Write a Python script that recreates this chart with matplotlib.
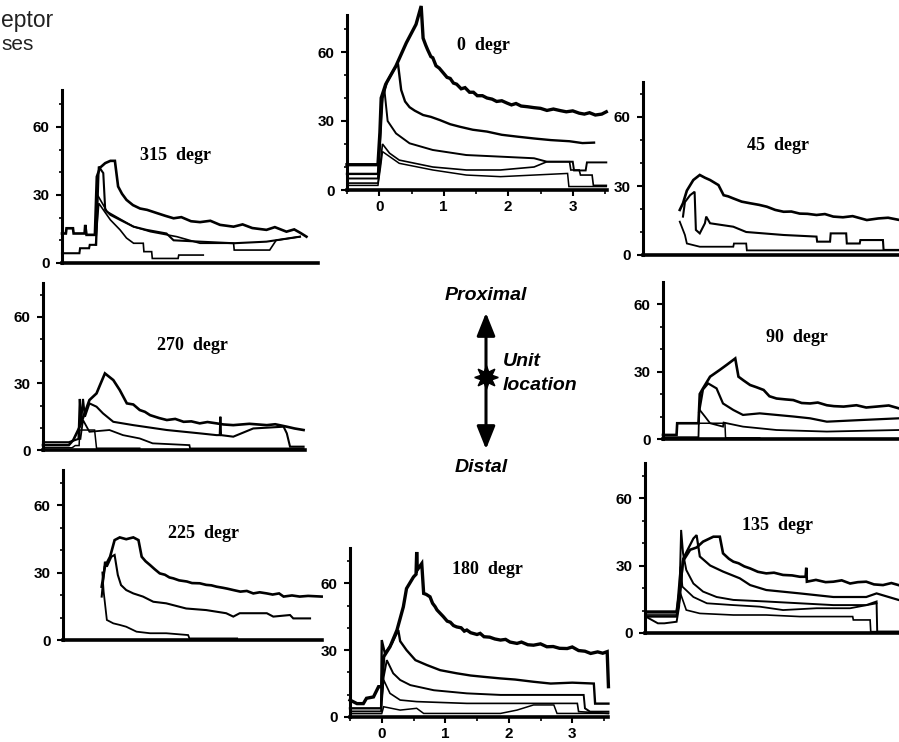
import matplotlib.pyplot as plt
from matplotlib.patches import FancyArrowPatch
from matplotlib.lines import Line2D
from matplotlib.ticker import MultipleLocator

# firing-rate traces (spikes/s) for each stimulus direction, time in s
# 0 degr
d0_a_t = [-0.5, -0.02, 0.01, 0.03, 0.10, 0.26, 0.42, 0.57, 0.65, 0.68, 0.72, 0.75, 0.8, 0.83, 0.88, 0.93, 0.99, 1.05, 1.1, 1.15, 1.2, 1.27, 1.33, 1.4, 1.46,
          1.52, 1.6, 1.67, 1.75, 1.82, 1.9, 1.98, 2.05, 2.12, 2.2, 2.3, 2.4, 2.5, 2.6, 2.7, 2.81, 2.9, 3.0, 3.1, 3.18, 3.26, 3.35, 3.45, 3.52]
d0_a_r = [11, 11, 25, 40, 46, 54, 64, 72, 80, 66, 63, 61, 58, 57.5, 54, 53, 51, 49, 48.5, 46.5, 46, 44, 44.5, 42.5, 42.5,
          41, 41, 40, 39.5, 38.5, 38.8, 37.8, 37, 37.6, 36.5, 36.2, 35.8, 35.5, 34.6, 35.2, 34.5, 34, 34.4, 33.4, 33, 33.6, 32.6, 33, 34]
d0_b_t = [-0.5, -0.02, 0.01, 0.05, 0.12, 0.22, 0.29, 0.34, 0.4, 0.47, 0.55, 0.68, 0.8, 0.94, 1.1, 1.25, 1.45, 1.67, 1.9, 2.14, 2.4, 2.66, 2.95, 3.15, 3.33]
d0_b_r = [7, 7, 20, 40, 47, 52, 55, 43.5, 38.5, 36, 34.5, 32.6, 31.8, 30.4, 28.6, 27.5, 26.2, 25.4, 24, 23.2, 22.4, 21.7, 21.2, 20.4, 20.6]
d0_c_t = [-0.5, -0.02, 0.02, 0.05, 0.08, 0.13, 0.26, 0.47, 0.83, 1.35, 1.88, 2.4, 2.6, 2.85, 3.0, 3.02, 3.2, 3.22, 3.52]
d0_c_r = [5, 5, 30, 40, 43.5, 30, 24.6, 20.3, 17.4, 15.2, 14.5, 13.8, 12.3, 12.3, 12.3, 8.5, 8.5, 12, 12]
d0_d_t = [-0.5, -0.02, 0.02, 0.05, 0.16, 0.31, 0.83, 1.35, 1.88, 2.4, 2.6, 2.95, 2.97, 3.1, 3.12, 3.3, 3.32, 3.52]
d0_d_r = [3, 3, 12, 20, 16, 13, 10, 8.7, 8.7, 10, 12.3, 12.3, 8.7, 8.7, 6.5, 6.5, 2, 2]
d0_e_t = [-0.5, -0.02, 0.02, 0.05, 0.31, 0.83, 1.35, 1.88, 2.4, 2.92, 2.94, 3.52]
d0_e_r = [2, 2, 10, 16.7, 11.6, 8.7, 6.5, 5.8, 6.5, 7.2, 1.5, 1.5]

# 315 degr
d315_a_t = [-0.5, -0.44, -0.43, -0.33, -0.32, -0.15, -0.14, -0.12, 0.01, 0.04, 0.09, 0.17, 0.25, 0.32, 0.37, 0.43, 0.5, 0.6, 0.71, 0.82, 0.97, 1.1,
            1.23, 1.35, 1.5, 1.64, 1.8, 1.95, 2.16, 2.3, 2.45, 2.67, 2.8, 2.98, 3.1, 3.2, 3.29]
d315_a_r = [13, 13, 15.3, 15.3, 13, 13, 16.8, 12.4, 12.4, 38, 42, 44, 45, 45, 33.7, 30.5, 27.8, 25.5, 24, 23.4, 22, 20.8,
            19.7, 20.2, 18.4, 18, 18.6, 16.8, 16, 17, 15.4, 14.6, 15.8, 13.8, 14.8, 13.2, 11.6]
d315_b_t = [-0.5, -0.23, -0.22, -0.08, -0.07, 0.03, 0.07, 0.14, 0.17, 0.25, 0.4, 0.61, 0.81, 1.12, 1.23, 1.64, 2.16, 2.67, 3.19]
d315_b_r = [4.3, 4.3, 6.5, 6.5, 8, 8, 42.5, 39.6, 23.4, 21.2, 19, 16, 14.6, 13, 10, 9.4, 8.7, 9.4, 11.6]
d315_c_t = [0.02, 0.07, 0.25, 0.4, 0.5, 0.61, 0.76, 0.77, 0.89, 0.9, 1.3, 1.31, 1.69]
d315_c_r = [8, 26.3, 19, 14.6, 11, 8.7, 8.7, 5, 5, 2, 2, 3.5, 3.5]
d315_d_t = [0.05, 0.2, 0.61, 0.87, 1.28, 1.64, 2.16, 2.17, 2.72, 2.82, 3.19]
d315_d_r = [30, 22.6, 16, 13.8, 11.6, 8.7, 8.7, 5.7, 5.7, 10, 11.6]

# 45 degr
d45_a_t = [0.07, 0.12, 0.18, 0.28, 0.38, 0.46, 0.54, 0.67, 0.75, 0.82, 0.9, 1.03, 1.16, 1.3, 1.42, 1.55, 1.68, 1.8, 1.93, 2.05, 2.19, 2.32, 2.45, 2.6, 2.75, 2.97, 3.15, 3.3, 3.48]
d45_a_r = [19.6, 22.5, 28, 32.6, 34.8, 33.6, 32.6, 30.4, 26, 25.5, 24.6, 23.2, 22.5, 21.8, 21, 19.6, 18.8, 18.9, 18, 17.9, 17.4, 17.8, 16.7, 16.4, 16.9, 15.2, 15.9, 16.2, 15.2]
d45_b_t = [0.12, 0.15, 0.23, 0.3, 0.32, 0.38, 0.46, 0.48, 0.54, 0.9, 1.1, 1.68, 2.19, 2.2, 2.4, 2.41, 2.65, 2.66, 2.86, 2.87, 3.22, 3.23, 3.48]
d45_b_r = [16.7, 23, 26, 27.5, 10.9, 9.4, 13.8, 16.7, 13.8, 12.3, 10, 8.7, 8, 5.8, 5.8, 9.4, 9.4, 5, 5, 6.5, 6.5, 2.2, 2.2]
d45_c_t = [0.07, 0.15, 0.18, 0.28, 0.38, 0.9, 0.91, 1.1, 1.11, 3.48]
d45_c_r = [14.5, 8.7, 5, 4.3, 3.6, 3.6, 5, 5, 2, 2]

# 270 degr
d270_a_t = [-0.5, -0.1, -0.03, 0.07, 0.22, 0.33, 0.38, 0.46, 0.59, 0.69, 0.8, 0.9, 1.0, 1.08, 1.16, 1.3, 1.42, 1.55, 1.68, 1.8, 1.93, 2.05, 2.19, 2.3, 2.45, 2.7, 2.97, 3.1, 3.28, 3.4, 3.54]
d270_a_r = [2.2, 2.2, 4.5, 10.5, 22.5, 25.5, 29, 34.5, 31.5, 27, 21, 20.5, 18, 17.2, 15.7, 14.4, 13.5, 14, 12.7, 12.9, 12, 12.6, 12, 11.5, 11.2, 11.8, 11.2, 11.6, 10.5, 9.7, 9]
d270_b_t = [-0.5, -0.1, 0.05, 0.07, 0.09, 0.12, 0.15, 0.22, 0.33, 0.43, 0.59, 0.9, 1.42, 1.93, 2.19, 2.24, 2.25, 2.26, 2.45, 2.76, 3.23, 3.28, 3.33, 3.54]
d270_b_r = [3.5, 3.5, 5, 23, 12, 23, 15, 21, 19.5, 16.5, 12.7, 11.2, 9, 7.5, 6.7, 6.7, 15, 6.7, 6, 9.7, 10.5, 7.5, 1.5, 1.5]
d270_c_t = [0.08, 0.12, 0.22, 0.53, 0.74, 1.0, 1.2, 1.77, 1.78, 3.54]
d270_c_r = [5, 13.5, 8.2, 9, 6.7, 5.2, 3, 2.2, 0.7, 0.7]
d270_d_t = [-0.5, -0.05, 0.0, 0.06, 0.07, 0.17, 0.3, 0.33, 1.0]
d270_d_r = [1.0, 1.0, 2, 2, 9, 9, 9, 0.8, 0.8]

# 90 degr
d90_a_t = [-0.5, -0.29, -0.28, 0.05, 0.07, 0.12, 0.23, 0.38, 0.49, 0.62, 0.67, 0.75, 0.85, 0.95, 1.06, 1.15, 1.26, 1.4, 1.52, 1.65, 1.78, 1.9, 2.04, 2.15, 2.3, 2.5, 2.65, 2.81, 3.0, 3.16]
d90_a_r = [1.8, 1.8, 7, 7, 20, 22.5, 27.7, 30.7, 33, 35.8, 27.7, 26, 24, 23, 21.8, 19, 18, 17.6, 17.3, 16, 15.8, 16.2, 15, 14.6, 14.4, 15, 14, 14.4, 14.9, 13.6]
d90_b_t = [0.06, 0.12, 0.2, 0.33, 0.43, 0.59, 0.74, 1.0, 1.26, 1.52, 1.78, 2.04, 2.55, 3.16]
d90_b_r = [12, 22, 24.7, 22.5, 15.8, 12.9, 10.7, 11.4, 10.7, 10, 9.2, 7.7, 8.4, 9.2]
d90_c_t = [-0.5, 0.05, 0.06, 0.07, 0.15, 0.23, 0.43, 0.44, 0.74, 1.26, 2.04, 3.16]
d90_c_r = [0.8, 0.8, 12.9, 12.9, 10, 7, 5.5, 7.3, 5.5, 4, 3.3, 4]
d90_d_t = [-0.28, 0.46, 0.47, 1.0]
d90_d_r = [7, 7, 0.5, 0.5]

# 225 degr
d225_a_t = [0.1, 0.15, 0.23, 0.3, 0.38, 0.48, 0.59, 0.67, 0.72, 0.78, 0.85, 0.92, 1.0, 1.08, 1.15, 1.21, 1.3, 1.42, 1.5, 1.62, 1.72, 1.8, 1.88, 1.98, 2.05,
            2.14, 2.25, 2.35, 2.45, 2.55, 2.66, 2.75, 2.85, 2.92, 3.05, 3.17, 3.3, 3.51]
d225_a_r = [23.7, 32.6, 37, 44.4, 45.6, 44.8, 45.6, 44.4, 37, 35, 33.3, 31.5, 29.6, 29, 27.8, 27.4, 26.5, 26, 25.3, 25.2, 24.5, 24.3, 23.7, 23.2, 22.8,
            22.2, 21.5, 21.8, 20.7, 21.2, 20.7, 20.2, 20.7, 19.3, 19.8, 19.3, 19.6, 19.3]
d225_b_t = [0.1, 0.15, 0.18, 0.25, 0.3, 0.35, 0.4, 0.48, 0.59, 0.74, 0.9, 1.1, 1.41, 1.72, 2.03, 2.14, 2.24, 2.66, 2.76, 3.02, 3.07, 3.33]
d225_b_r = [19.3, 34.8, 32.6, 37, 37.8, 28.9, 24.4, 22.2, 20.7, 19.3, 17, 16.3, 14, 13.3, 11.9, 10.4, 11.9, 11.9, 10.4, 11.1, 9.6, 9.6]
d225_c_t = [0.11, 0.13, 0.18, 0.28, 0.38, 0.48, 0.64, 0.85, 1.1, 1.44, 1.46, 2.2]
d225_c_r = [30, 21.5, 8.9, 7.4, 6.7, 5.9, 3.7, 3, 3, 2.2, 0.7, 0.7]

# 135 degr
d135_a_t = [-0.47, -0.01, 0.04, 0.09, 0.2, 0.3, 0.4, 0.56, 0.66, 0.71, 0.8, 0.87, 0.95, 1.04, 1.13, 1.25, 1.38, 1.5, 1.64, 1.78, 1.9, 1.99, 2.0, 2.01,
            2.15, 2.3, 2.42, 2.55, 2.68, 2.8, 2.93, 3.05, 3.19, 3.32, 3.43]
d135_a_r = [9.5, 9.5, 19, 32, 37, 38, 40.6, 42.8, 42.8, 35.4, 33, 31.7, 31, 29.6, 28.7, 27.2, 26.5, 26.8, 25.8, 25.6, 25, 25, 29, 22.8,
            23.6, 22.6, 22.8, 23.4, 22, 22.6, 22.8, 21.6, 21.3, 22.2, 21.3]
d135_b_t = [-0.47, -0.01, 0.04, 0.09, 0.25, 0.3, 0.35, 0.51, 0.71, 0.97, 1.13, 1.38, 1.9, 2.42, 2.93, 3.09, 3.43]
d135_b_r = [7.3, 7.3, 15, 33, 42, 43.5, 34, 30, 27.3, 24.3, 21.3, 19.1, 17.6, 16, 16, 17.6, 14.7]
d135_c_t = [-0.47, -0.3, -0.2, -0.01, 0.03, 0.06, 0.09, 0.14, 0.25, 0.4, 0.61, 0.87, 1.38, 1.9, 2.42, 2.93, 3.09, 3.1, 3.43]
d135_c_r = [7, 4.3, 4.3, 5, 12, 45.8, 35.4, 28, 22, 18.4, 16, 14.7, 14, 13.2, 12.4, 12.4, 14, 0.6, 0.6]
d135_d_t = [-0.47, -0.01, 0.05, 0.08, 0.25, 0.46, 0.87, 1.28, 1.64, 2.16, 2.68, 3.09]
d135_d_r = [9, 9, 29.5, 20.6, 16, 13.2, 12.4, 11.7, 10.2, 11, 11, 13.2]
d135_e_t = [-0.47, -0.01, 0.04, 0.14, 0.35, 0.87, 1.38, 1.9, 2.42, 2.72, 2.73, 2.99, 3.0, 3.43]
d135_e_r = [8, 8, 18.4, 10.2, 8.7, 8, 8, 7.3, 7.3, 7.3, 5.8, 5.8, 0.6, 0.6]

# 180 degr
d180_a_t = [-0.5, -0.39, -0.29, -0.24, -0.13, -0.05, 0.0, 0.03, 0.13, 0.24, 0.34, 0.39, 0.5, 0.54, 0.55, 0.56, 0.63, 0.66, 0.7, 0.76, 0.8, 0.84,
            0.87, 0.92, 0.97, 1.03, 1.08, 1.13, 1.18, 1.25, 1.3, 1.34, 1.4, 1.5, 1.55, 1.61, 1.7, 1.78, 1.87, 1.95, 2.02, 2.13, 2.2, 2.3,
            2.39, 2.5, 2.6, 2.7, 2.8, 2.92, 3.0, 3.1, 3.2, 3.29, 3.4, 3.48, 3.55, 3.57]
d180_a_r = [7.6, 6, 6, 8.4, 9, 13.6, 13.6, 27, 31.5, 39, 49.4, 57.6, 62.8, 64, 74, 66, 68.8, 55.4, 55, 53.9, 51, 49.5,
            48, 46.5, 45, 43, 42.5, 41, 40.4, 40, 38.5, 39, 37.8, 37, 37.5, 36, 35.8, 35, 34.5, 34.8, 33.6, 33, 33.6, 32.4,
            32.2, 32.8, 31.5, 31.6, 30.8, 30.7, 31.4, 29.8, 29.5, 28.5, 29.2, 28.6, 29.3, 13.6]
d180_b_t = [-0.5, -0.01, 0.0, 0.05, 0.16, 0.26, 0.29, 0.39, 0.53, 0.71, 0.92, 1.18, 1.4, 1.61, 1.87, 2.1, 2.39, 2.66, 3.0, 3.34, 3.36, 3.57]
d180_b_r = [3.9, 3.9, 34.5, 28.5, 33, 39, 34, 30, 25.5, 23.3, 21, 19.6, 18.6, 18, 17.3, 16.8, 15.8, 15, 15.4, 15, 6, 6]
d180_c_t = [-0.5, -0.01, 0.03, 0.08, 0.18, 0.29, 0.45, 0.82, 1.34, 1.87, 2.39, 3.18, 3.2, 3.28, 3.57]
d180_c_r = [2.5, 2.5, 18, 25.5, 19.6, 16.6, 14.3, 12, 10.6, 9.9, 9.9, 9.9, 3.9, 2.4, 2.4]
d180_d_t = [0.0, 0.03, 0.13, 0.29, 0.55, 1.34, 2.39, 3.08, 3.1, 3.57]
d180_d_r = [8, 16.6, 10.6, 7.6, 6.9, 6.1, 6.1, 6.1, 2.4, 1.6]
d180_e_t = [-0.5, 0.0, 0.03, 0.29, 0.55, 0.66, 1.87, 2.13, 2.39, 2.71, 2.76, 3.57]
d180_e_r = [1.5, 1.5, 4.6, 3.1, 3.9, 1.6, 1.6, 3.1, 5.4, 5.4, 1.6, 1.6]

y_ticks = [0, 30, 60]
x_ticks = [0, 1, 2, 3]

W, H = 899, 742
fig = plt.figure(figsize=(W / 100, H / 100), dpi=100)
fig.patch.set_facecolor("white")

TICK_FONT = dict(family="Liberation Sans", weight="bold", size=11)
TITLE_FONT = dict(family="Liberation Serif", weight="bold", size=13)
CAPTION_FONT = dict(family="Liberation Sans", weight="bold", style="italic", size=14)


def fx(px):
    return px / W


def fy(py):
    return 1 - py / H


def panel(box, unit_px, sec_px, traces, title, title_xy, show_time=False):
    left, right, top, zero = box
    ax = fig.add_axes([fx(left), fy(zero), (right - left) / W, (zero - top) / H])
    ax.set_xlim(-0.5, -0.5 + (right - left) / sec_px)
    ax.set_ylim(0, (zero - top) / unit_px)
    for t, r, lw in traces:
        ax.plot(t, r, color="black", lw=lw, solid_joinstyle="miter", clip_on=False)
    for side in ("top", "right"):
        ax.spines[side].set_visible(False)
    ax.spines["left"].set_linewidth(2.2)
    ax.spines["bottom"].set_linewidth(2.6)
    ax.set_yticks(y_ticks)
    ax.set_yticklabels([str(v) for v in y_ticks], fontdict=TICK_FONT)
    ax.yaxis.set_minor_locator(MultipleLocator(10))
    ax.tick_params(axis="y", which="major", length=4, width=1.5, pad=5)
    ax.tick_params(axis="y", which="minor", length=2, width=1.2)
    if show_time:
        ax.set_xticks(x_ticks)
        ax.set_xticklabels([str(v) for v in x_ticks], fontdict=TICK_FONT)
        ax.xaxis.set_minor_locator(MultipleLocator(0.5))
        ax.tick_params(axis="x", which="major", length=4, width=1.5, pad=3)
        ax.tick_params(axis="x", which="minor", length=3, width=1.2)
    else:
        ax.set_xticks([])
    ax.patch.set_alpha(0)
    fig.text(fx(title_xy[0]), fy(title_xy[1]), title, ha="center", va="center", **TITLE_FONT)
    return ax


panel((347, 607, 15, 190), 2.3, 64.5,
      [(d0_a_t, d0_a_r, 2.4), (d0_b_t, d0_b_r, 1.7), (d0_c_t, d0_c_r, 1.4),
       (d0_d_t, d0_d_r, 1.2), (d0_e_t, d0_e_r, 1.1)],
      "0  degr", (483, 45), show_time=True)
panel((62, 318, 90, 263), 2.27, 64.5,
      [(d315_a_t, d315_a_r, 1.9), (d315_b_t, d315_b_r, 1.5),
       (d315_c_t, d315_c_r, 1.2), (d315_d_t, d315_d_r, 1.2)],
      "315  degr", (176, 155))
panel((643, 899, 82, 255), 2.3, 64.5,
      [(d45_a_t, d45_a_r, 1.9), (d45_b_t, d45_b_r, 1.5), (d45_c_t, d45_c_r, 1.3)],
      "45  degr", (778, 146))
panel((43, 305, 283, 450), 2.22, 64.5,
      [(d270_a_t, d270_a_r, 1.9), (d270_b_t, d270_b_r, 1.5),
       (d270_c_t, d270_c_r, 1.3), (d270_d_t, d270_d_r, 1.1)],
      "270  degr", (192, 346))
panel((663, 899, 282, 439), 2.25, 64.5,
      [(d90_a_t, d90_a_r, 1.9), (d90_b_t, d90_b_r, 1.6),
       (d90_c_t, d90_c_r, 1.3), (d90_d_t, d90_d_r, 1.1)],
      "90  degr", (797, 337))
panel((63, 322, 470, 640), 2.25, 64.5,
      [(d225_a_t, d225_a_r, 1.9), (d225_b_t, d225_b_r, 1.5), (d225_c_t, d225_c_r, 1.3)],
      "225  degr", (203, 533))
panel((645, 899, 463, 633), 2.25, 64.5,
      [(d135_a_t, d135_a_r, 1.9), (d135_b_t, d135_b_r, 1.6), (d135_c_t, d135_c_r, 1.4),
       (d135_d_t, d135_d_r, 1.3), (d135_e_t, d135_e_r, 1.2)],
      "135  degr", (778, 526))
panel((350, 608, 548, 717), 2.23, 63.5,
      [(d180_a_t, d180_a_r, 2.4), (d180_b_t, d180_b_r, 1.7), (d180_c_t, d180_c_r, 1.4),
       (d180_d_t, d180_d_r, 1.2), (d180_e_t, d180_e_r, 1.1)],
      "180  degr", (487, 569), show_time=True)

# recording site sketch in the middle
fig.add_artist(FancyArrowPatch((fx(486), fy(310)), (fx(486), fy(452)),
                               arrowstyle="<|-|>,head_length=1.0,head_width=0.4",
                               mutation_scale=14, lw=2.2, color="black",
                               transform=fig.transFigure))
fig.add_artist(Line2D([fx(486)], [fy(377)], marker=(8, 1, 0), markersize=17,
                      color="black", transform=fig.transFigure))
fig.text(fx(486), fy(295), "Proximal", ha="center", va="center", **CAPTION_FONT)
fig.text(fx(503), fy(361), "Unit", ha="left", va="center", **CAPTION_FONT)
fig.text(fx(503), fy(385), "location", ha="left", va="center", **CAPTION_FONT)
fig.text(fx(481), fy(467), "Distal", ha="center", va="center", **CAPTION_FONT)

# caption fragment at the top-left page edge
fig.text(fx(1), fy(21), "eptor", ha="left", va="center", size=16.5,
         family="Liberation Sans", color="#222222")
fig.text(fx(1), fy(44), "ses", ha="left", va="center", size=15,
         family="Liberation Sans", color="#222222")

fig.savefig("out.png", dpi=100, facecolor="white")
